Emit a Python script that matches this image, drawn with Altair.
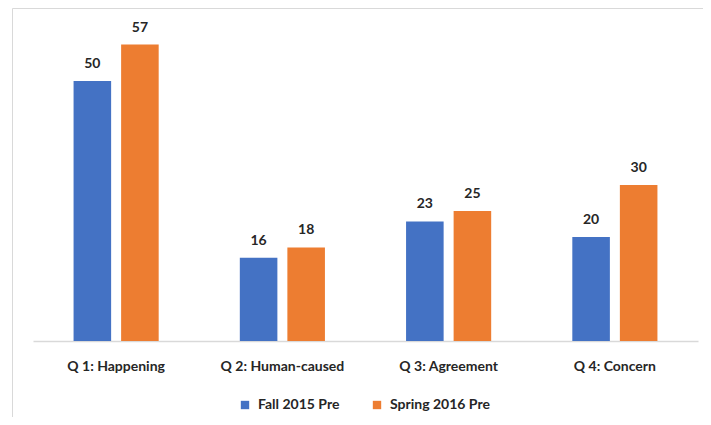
import altair as alt
import pandas as pd

questions = ["Q 1: Happening", "Q 2: Human-caused", "Q 3: Agreement", "Q 4: Concern"]
series = ["Fall 2015 Pre", "Spring 2016 Pre"]
fall_values = [50, 16, 23, 20]
spring_values = [57, 18, 25, 30]
colors = ["#4472C4", "#ED7D31"]

rows = []
for q, f, s in zip(questions, fall_values, spring_values):
    rows.append({"question": q, "series": series[0], "value": f})
    rows.append({"question": q, "series": series[1], "value": s})
df = pd.DataFrame(rows)

FONT = "Lato"
W, H = 665, 333

xenc = alt.X("question:N", sort=questions, title=None,
             scale=alt.Scale(paddingInner=0.488, paddingOuter=0.244),
             axis=alt.Axis(labelAngle=0, labelFont=FONT, labelFontSize=14,
                           labelFontWeight="bold", labelColor="#262626",
                           labelPadding=18, ticks=False, domainColor="#d9d9d9",
                           domainWidth=1.5, grid=False))
yenc = alt.Y("value:Q", scale=alt.Scale(domain=[0, 333 / 5.2], nice=False, zero=True),
             axis=None)
xoff = alt.XOffset("series:N", sort=series, scale=alt.Scale(paddingInner=0.21, paddingOuter=0))

base = alt.Chart(df)
one = pd.DataFrame({"a": [0]})

top_line = alt.Chart(one).mark_rule(color="#d9d9d9", strokeWidth=1).encode(
    x=alt.value(-20.5), x2=alt.value(700), y=alt.value(0.5))
left_line = alt.Chart(one).mark_rule(color="#d9d9d9", strokeWidth=1).encode(
    x=alt.value(-20.5), y=alt.value(0.5), y2=alt.value(420))

bars = base.mark_bar().encode(
    x=xenc, y=yenc, xOffset=xoff,
    color=alt.Color("series:N", sort=series,
                    scale=alt.Scale(domain=series, range=colors),
                    legend=alt.Legend(title=None, orient="none", direction="horizontal",
                                      legendX=205, legendY=390, symbolType="square",
                                      symbolSize=70, symbolStrokeWidth=0,
                                      labelFont=FONT, labelFontSize=14,
                                      labelFontWeight="bold", labelColor="#262626",
                                      columnPadding=30, labelOffset=6)),
)

labels = base.mark_text(font=FONT, fontSize=14, fontWeight="bold", color="#262626",
                        baseline="alphabetic", dy=-13).encode(
    x=xenc, y=yenc, xOffset=xoff, text="value:Q")

chart = alt.layer(top_line, left_line, bars, labels).properties(
    width=W, height=H,
    background="white",
    autosize=alt.AutoSizeParams(type="none"),
    padding={"left": 25, "top": 0, "right": 5, "bottom": 76},
).configure_view(stroke="transparent", strokeWidth=0)

chart.save("out.html", embed_options={"renderer": "svg", "actions": False})
